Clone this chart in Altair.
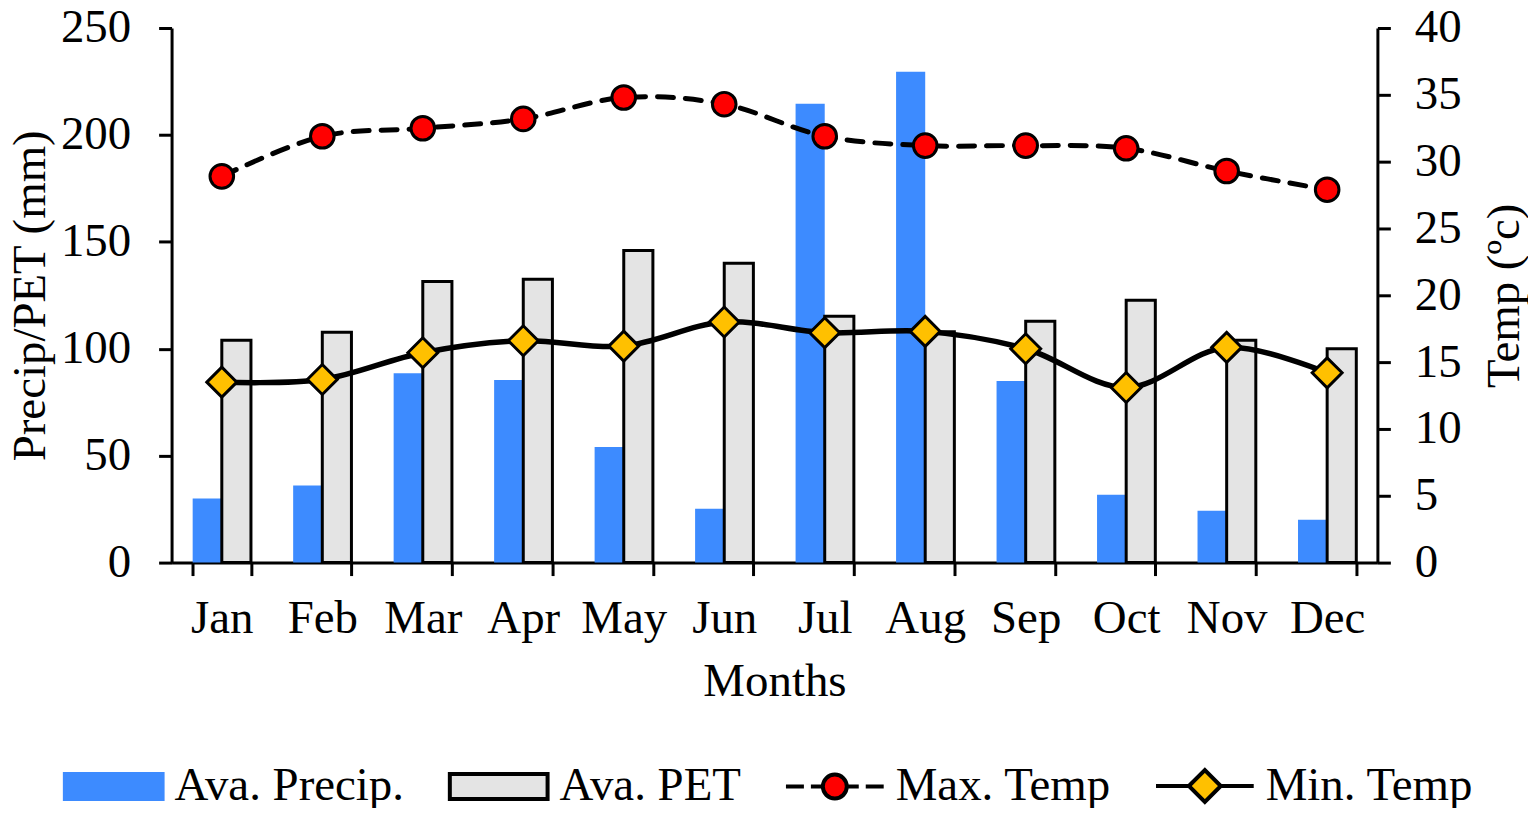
import altair as alt
import pandas as pd

months = ["Jan", "Feb", "Mar", "Apr", "May", "Jun", "Jul", "Aug", "Sep", "Oct", "Nov", "Dec"]
precip = [30, 36, 88.6, 85.4, 54, 25.2, 214.6, 229.5, 84.9, 31.7, 24.3, 20]
pet = [104, 107.7, 131.5, 132.5, 146, 140, 115.2, 108, 112.9, 122.7, 104, 100]
tmax = [28.9, 31.9, 32.5, 33.2, 34.8, 34.3, 31.9, 31.2, 31.2, 31.0, 29.3, 27.9]
tmin = [13.5, 13.7, 15.7, 16.6, 16.2, 18.0, 17.2, 17.3, 16.0, 13.1, 16.1, 14.2]
left_ticks = [0, 50, 100, 150, 200, 250]
right_ticks = [0, 5, 10, 15, 20, 25, 30, 35, 40]
series = ["Ava. Precip.", "Ava. PET", "Max. Temp", "Min. Temp"]

FONT = "Liberation Serif"
FS = 47
BLUE = "#3d8bff"
GREY = "#e4e4e4"
RED = "#ff0000"
GOLD = "#ffc000"

bars_df = pd.DataFrame({
    "month": months * 2,
    "series": [series[0]] * 12 + [series[1]] * 12,
    "value": precip + pet,
})
temp_df = pd.DataFrame({
    "month": months * 2,
    "series": [series[2]] * 12 + [series[3]] * 12,
    "temp": tmax + tmin,
})
legend_df = pd.DataFrame({"series": series})

x_enc = alt.X(
    "month:N", sort=months,
    scale=alt.Scale(paddingInner=0.42, paddingOuter=0.21),
    axis=alt.Axis(title="Months", labelAngle=0, tickBand="extent",
                  labelPadding=20, titlePadding=17),
)

is_precip = alt.datum.series == series[0]
bars = alt.Chart(bars_df).mark_bar().encode(
    x=x_enc,
    xOffset=alt.XOffset("series:N", sort=series[:2],
                        scale=alt.Scale(domain=series[:2], paddingInner=0, paddingOuter=0)),
    y=alt.Y("value:Q", scale=alt.Scale(domain=[0, 250], nice=False),
            axis=alt.Axis(values=left_ticks, title="Precip/PET (mm)",
                          labelPadding=28, titlePadding=6)),
    fill=alt.condition(is_precip, alt.value(BLUE), alt.value(GREY)),
    stroke=alt.condition(is_precip, alt.value(BLUE), alt.value("black")),
    strokeWidth=alt.condition(is_precip, alt.value(0), alt.value(3)),
)

y_t = alt.Y("temp:Q", scale=alt.Scale(domain=[0, 40], nice=False),
            axis=alt.Axis(orient="right", values=right_ticks, title="Temp (ºc)",
                          labelPadding=24, titlePadding=20, titleAngle=270,
                          titleBaseline="top"))

line_max = alt.Chart(temp_df).transform_filter(alt.datum.series == series[2]).mark_line(
    interpolate="catmull-rom", color="black", strokeWidth=5, strokeCap="round",
    strokeDash=[16, 12]
).encode(x=x_enc, y=y_t)

line_min = alt.Chart(temp_df).transform_filter(alt.datum.series == series[3]).mark_line(
    interpolate="catmull-rom", color="black", strokeWidth=5.5, strokeCap="round"
).encode(x=x_enc, y=y_t)

is_max = alt.datum.series == series[2]
points = alt.Chart(temp_df).mark_point(
    filled=True, opacity=1, stroke="black", strokeWidth=3
).encode(
    x=x_enc, y=y_t,
    shape=alt.condition(is_max, alt.value("circle"), alt.value("diamond")),
    fill=alt.condition(is_max, alt.value(RED), alt.value(GOLD)),
    size=alt.condition(is_max, alt.value(560), alt.value(900)),
)

temp = alt.layer(line_max, line_min, points)

# legend symbols (unit square -1..1 = 100 px)
rect_path = "M-0.98,-0.25L0.98,-0.25L0.98,0.25L-0.98,0.25Z"
max_path = ("M-0.98,0L-0.62,0M-0.48,0L-0.26,0M0.26,0L0.48,0M0.62,0L0.98,0"
            "M-0.24,0A0.24,0.24,0,1,0,0.24,0A0.24,0.24,0,1,0,-0.24,0Z")
min_path = "M-0.98,0L-0.32,0M0.32,0L0.98,0M-0.32,0L0,-0.32L0.32,0L0,0.32Z"
leg_shapes = [rect_path, rect_path, max_path, min_path]
leg_fills = [BLUE, GREY, RED, GOLD]
leg_strokes = [BLUE, "black", "black", "black"]

leg = alt.Legend(title=None, orient="none", legendX=-110, legendY=708,
                 direction="horizontal", symbolSize=10000, symbolStrokeWidth=4,
                 labelOffset=9, columnPadding=37, padding=0, symbolOpacity=1,
                 labelLimit=500)

dummy = alt.Chart(legend_df).transform_filter("false").mark_point(
    filled=True, opacity=1, size=10000, strokeWidth=4
).encode(
    shape=alt.Shape("series:N", sort=series,
                    scale=alt.Scale(domain=series, range=leg_shapes), legend=leg),
    fill=alt.Fill("series:N", sort=series,
                  scale=alt.Scale(domain=series, range=leg_fills), legend=leg),
    stroke=alt.Stroke("series:N", sort=series,
                      scale=alt.Scale(domain=series, range=leg_strokes), legend=leg),
)

chart = alt.layer(bars, temp, dummy).resolve_scale(y="independent").properties(
    width=1209, height=536,
    autosize=alt.AutoSizeParams(type="none"),
    padding={"left": 164, "top": 19, "right": 151, "bottom": 245},
).configure_axis(
    labelFont=FONT, titleFont=FONT, labelFontSize=FS, titleFontSize=FS,
    titleFontWeight="normal", labelColor="black", titleColor="black",
    domainColor="black", domainWidth=3, tickColor="black", tickWidth=3,
    tickSize=13, grid=False,
).configure_view(stroke=None).configure_legend(
    labelFont=FONT, labelFontSize=FS, labelColor="black", labelLimit=500,
)

chart.save("out.html", embed_options={"renderer": "svg", "actions": False})
